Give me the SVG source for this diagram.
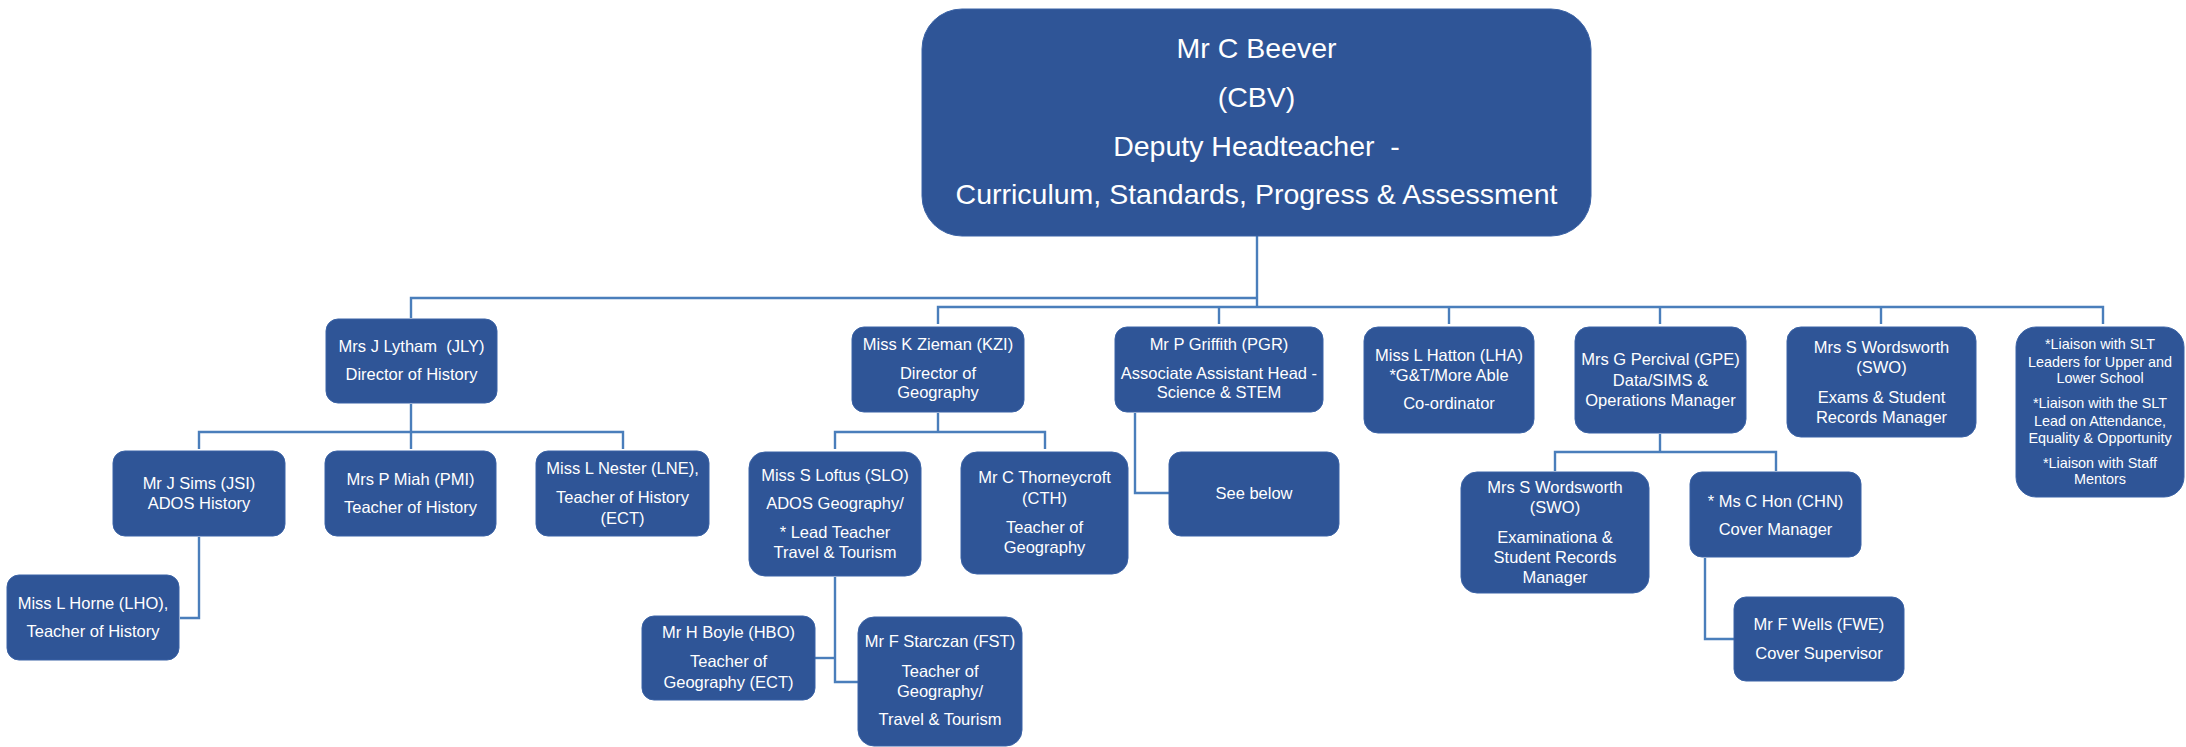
<svg xmlns="http://www.w3.org/2000/svg" width="2186" height="747" viewBox="0 0 2186 747">
<style>
.box{fill:#2F5597;stroke:#3B63A6;stroke-width:1}
.t{font-family:"Liberation Sans",Arial,sans-serif;font-size:16.5px;fill:#FFFFFF;text-anchor:middle}
.big{font-size:28.5px}
.sm{font-size:14.4px}
.c{fill:none;stroke:#4A7EBB;stroke-width:2.4}
</style>
<rect width="2186" height="747" fill="#FFFFFF"/>
<g id="connectors">
<path class="c" d="M1257,236 V307"/>
<path class="c" d="M411,318 V298 H1257"/>
<path class="c" d="M938,324 V307 H2103 V324"/>
<path class="c" d="M1219,307 V324"/>
<path class="c" d="M1449,307 V324"/>
<path class="c" d="M1660,307 V324"/>
<path class="c" d="M1881,307 V324"/>
<path class="c" d="M411,404 V449"/>
<path class="c" d="M199,449 V432 H623 V449"/>
<path class="c" d="M199,537 V618 H180"/>
<path class="c" d="M938,413 V432"/>
<path class="c" d="M835,449 V432 H1045 V449"/>
<path class="c" d="M835,577 V682 H858"/>
<path class="c" d="M835,658 H815"/>
<path class="c" d="M1135,413 V493 H1169"/>
<path class="c" d="M1660,434 V452"/>
<path class="c" d="M1555,471 V452 H1776 V471"/>
<path class="c" d="M1705,558 V639 H1734"/>
</g>
<g id="cbv">
<rect class="box" x="922" y="9" width="669" height="227" rx="40"/>
<text class="t big" x="1256.5" y="58">Mr C Beever</text>
<text class="t big" x="1256.5" y="107">(CBV)</text>
<text class="t big" x="1256.5" y="156" xml:space="preserve">Deputy Headteacher  -</text>
<text class="t big" x="1256.5" y="204">Curriculum, Standards, Progress &amp; Assessment</text>
</g>
<g id="jly">
<rect class="box" x="326" y="319" width="171" height="84" rx="12"/>
<text class="t" x="411.5" y="352" xml:space="preserve">Mrs J Lytham  (JLY)</text>
<text class="t" x="411.5" y="380">Director of History</text>
</g>
<g id="jsi">
<rect class="box" x="113" y="451" width="172" height="85" rx="12"/>
<text class="t" x="199" y="489">Mr J Sims (JSI)</text>
<text class="t" x="199" y="509">ADOS History</text>
</g>
<g id="pmi">
<rect class="box" x="325" y="451" width="171" height="85" rx="12"/>
<text class="t" x="410.5" y="485">Mrs P Miah (PMI)</text>
<text class="t" x="410.5" y="513">Teacher of History</text>
</g>
<g id="lne">
<rect class="box" x="536" y="451" width="173" height="85" rx="12"/>
<text class="t" x="622.5" y="474">Miss L Nester (LNE),</text>
<text class="t" x="622.5" y="503">Teacher of History</text>
<text class="t" x="622.5" y="524">(ECT)</text>
</g>
<g id="lho">
<rect class="box" x="7" y="575" width="172" height="85" rx="12"/>
<text class="t" x="93" y="609">Miss L Horne (LHO),</text>
<text class="t" x="93" y="637">Teacher of History</text>
</g>
<g id="kzi">
<rect class="box" x="852" y="327" width="172" height="85" rx="12"/>
<text class="t" x="938" y="350">Miss K Zieman (KZI)</text>
<text class="t" x="938" y="379">Director of</text>
<text class="t" x="938" y="398">Geography</text>
</g>
<g id="pgr">
<rect class="box" x="1115" y="327" width="208" height="85" rx="12"/>
<text class="t" x="1219" y="350">Mr P Griffith (PGR)</text>
<text class="t" x="1219" y="379">Associate Assistant Head -</text>
<text class="t" x="1219" y="398">Science &amp; STEM</text>
</g>
<g id="lha">
<rect class="box" x="1364" y="327" width="170" height="106" rx="14"/>
<text class="t" x="1449" y="361">Miss L Hatton (LHA)</text>
<text class="t" x="1449" y="381">*G&amp;T/More Able</text>
<text class="t" x="1449" y="409">Co-ordinator</text>
</g>
<g id="gpe">
<rect class="box" x="1575" y="327" width="171" height="106" rx="14"/>
<text class="t" x="1660.5" y="365">Mrs G Percival (GPE)</text>
<text class="t" x="1660.5" y="386">Data/SIMS &amp;</text>
<text class="t" x="1660.5" y="406">Operations Manager</text>
</g>
<g id="swo1">
<rect class="box" x="1787" y="327" width="189" height="110" rx="14"/>
<text class="t" x="1881.5" y="353">Mrs S Wordsworth</text>
<text class="t" x="1881.5" y="373">(SWO)</text>
<text class="t" x="1881.5" y="403">Exams &amp; Student</text>
<text class="t" x="1881.5" y="423">Records Manager</text>
</g>
<g id="liaison">
<rect class="box" x="2016" y="327" width="168" height="170" rx="20"/>
<text class="t sm" x="2100" y="349">*Liaison with SLT</text>
<text class="t sm" x="2100" y="367">Leaders for Upper and</text>
<text class="t sm" x="2100" y="383">Lower School</text>
<text class="t sm" x="2100" y="408">*Liaison with the SLT</text>
<text class="t sm" x="2100" y="426">Lead on Attendance,</text>
<text class="t sm" x="2100" y="443">Equality &amp; Opportunity</text>
<text class="t sm" x="2100" y="468">*Liaison with Staff</text>
<text class="t sm" x="2100" y="484">Mentors</text>
</g>
<g id="slo">
<rect class="box" x="749" y="452" width="172" height="124" rx="16"/>
<text class="t" x="835" y="481">Miss S Loftus (SLO)</text>
<text class="t" x="835" y="509">ADOS Geography/</text>
<text class="t" x="835" y="538">* Lead Teacher</text>
<text class="t" x="835" y="558">Travel &amp; Tourism</text>
</g>
<g id="cth">
<rect class="box" x="961" y="452" width="167" height="122" rx="16"/>
<text class="t" x="1044.5" y="483">Mr C Thorneycroft</text>
<text class="t" x="1044.5" y="504">(CTH)</text>
<text class="t" x="1044.5" y="533">Teacher of</text>
<text class="t" x="1044.5" y="553">Geography</text>
</g>
<g id="seebelow">
<rect class="box" x="1169" y="452" width="170" height="84" rx="12"/>
<text class="t" x="1254" y="499">See below</text>
</g>
<g id="hbo">
<rect class="box" x="642" y="616" width="173" height="84" rx="12"/>
<text class="t" x="728.5" y="638">Mr H Boyle (HBO)</text>
<text class="t" x="728.5" y="667">Teacher of</text>
<text class="t" x="728.5" y="688">Geography (ECT)</text>
</g>
<g id="fst">
<rect class="box" x="858" y="617" width="164" height="129" rx="16"/>
<text class="t" x="940" y="647">Mr F Starczan (FST)</text>
<text class="t" x="940" y="677">Teacher of</text>
<text class="t" x="940" y="697">Geography/</text>
<text class="t" x="940" y="725">Travel &amp; Tourism</text>
</g>
<g id="swo2">
<rect class="box" x="1461" y="472" width="188" height="121" rx="16"/>
<text class="t" x="1555" y="493">Mrs S Wordsworth</text>
<text class="t" x="1555" y="513">(SWO)</text>
<text class="t" x="1555" y="543">Examinationa &amp;</text>
<text class="t" x="1555" y="563">Student Records</text>
<text class="t" x="1555" y="583">Manager</text>
</g>
<g id="chn">
<rect class="box" x="1690" y="472" width="171" height="85" rx="12"/>
<text class="t" x="1775.5" y="507">* Ms C Hon (CHN)</text>
<text class="t" x="1775.5" y="535">Cover Manager</text>
</g>
<g id="fwe">
<rect class="box" x="1734" y="597" width="170" height="84" rx="12"/>
<text class="t" x="1819" y="630">Mr F Wells (FWE)</text>
<text class="t" x="1819" y="659">Cover Supervisor</text>
</g>
</svg>
